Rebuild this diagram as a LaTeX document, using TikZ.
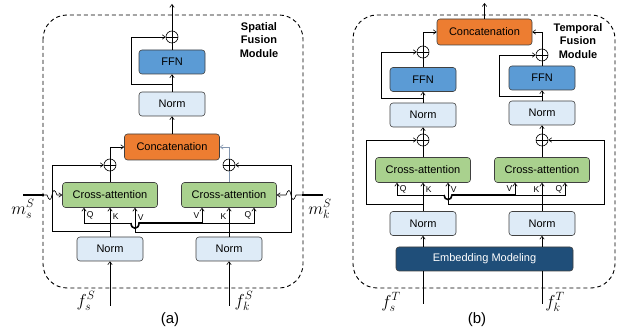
\documentclass[tikz,border=0pt]{standalone}
\usepackage{fontspec}
\setmainfont{Liberation Sans}
\usetikzlibrary{arrows.meta,positioning}
\definecolor{normblue}{RGB}{222,235,247}
\definecolor{ffnblue}{RGB}{91,155,213}
\definecolor{catorange}{RGB}{237,125,49}
\definecolor{cagreen}{RGB}{169,209,142}
\definecolor{embblue}{RGB}{31,78,121}
\definecolor{linegray}{RGB}{132,151,176}

\begin{document}
\begin{tikzpicture}
    [x=1pt, y=-1pt, line width=0.6pt,
    font=\fontsize{11}{13}\selectfont,
    arr/.style={-{Straight Barb[length=3pt,width=4.5pt]}},
    thickln/.style={line width=1.6pt},
    gline/.style={draw=linegray},
    frame/.style={dash pattern=on 4pt off 3pt, line width=0.9pt, rounded corners=24pt},
    box/.style={draw=black!75, rounded corners=3pt, inner sep=0pt, minimum height=24pt},
    normbox/.style={box, fill=normblue, minimum width=66pt},
    ffnbox/.style={box, fill=ffnblue, minimum width=66pt},
    catbox/.style={box, fill=catorange, minimum width=95pt, minimum height=26pt},
    cabox/.style={box, fill=cagreen, minimum width=95pt, minimum height=25pt},
    embbox/.style={box, fill=embblue, text=white, minimum width=177pt},
    plus/.style={circle, draw, fill=white, inner sep=0pt, minimum size=12pt,
        path picture={\draw (path picture bounding box.north) -- (path picture bounding box.south)
            (path picture bounding box.west) -- (path picture bounding box.east);}},
    qkv/.style={font=\fontsize{8.5}{8.5}\selectfont, inner sep=0.5pt},
    mathlbl/.style={font=\fontsize{18}{18}\selectfont, inner sep=0pt},
    caption/.style={font=\fontsize{15}{15}\selectfont},
    title/.style={font=\fontsize{11}{13.5}\selectfont\bfseries, align=center}]
    \useasboundingbox (0,0) rectangle (618,336);

        %% Spatial Fusion Module (a)
    \draw[frame] (43,15) rectangle (303,288);
    \node[title] (tA) at (259,40) {Spatial\\Fusion\\Module};
        \node[catbox] (catA) at (172,147) {Concatenation};
        \node[normbox, above of=catA, node distance=43pt] (normA3) {Norm};
        \node[ffnbox, above of=normA3, node distance=42pt] (ffnA) {FFN};
        \node[plus, above of=ffnA, node distance=25pt] (plusA3) {};
        \coordinate (outA) at (172,4);
        \node[cabox] (caA1) at (110,195) {Cross-attention};
        \node[cabox] (caA2) at (229,195) {Cross-attention};
        \node[plus, above of=caA1, node distance=30pt] (plusA1) {};
        \node[plus, above of=caA2, node distance=30pt] (plusA2) {};
        \node[normbox, below of=caA1, node distance=54pt] (normA1) {Norm};
        \node[normbox, below of=caA2, node distance=54pt] (normA2) {Norm};
        \coordinate (inA1) at (110,306);
        \coordinate (inA2) at (229,306);
        \coordinate (msA) at (23,195);
        \coordinate (msE) at (44,195);
        \coordinate (mkA) at (323,195);
        \coordinate (mkE) at (302,195);
        \node[mathlbl] (fsS) at (86,301) {$f_s^S$};
        \node[mathlbl] (fkS) at (244,301) {$f_k^S$};
        \node[mathlbl] (msS) at (23,209) {$m_s^S$};
        \node[mathlbl] (mkS) at (320,209) {$m_k^S$};
        \node[caption] (capA) at (170,320) {(a)};

        \draw[arr] (catA) to (normA3);
        \draw[arr] (normA3) to (ffnA);
        \draw (ffnA) to (plusA3);
        \draw[arr] (plusA3) to (outA);
        \coordinate (brA3) at (172,84);
        \draw[arr] (brA3) -- ++(-41,0) |- (plusA3.west);
        \draw (caA1) to (plusA1);
        \draw[arr] (plusA1) |- (catA.west);
        \draw[gline] (caA2) to (plusA2);
        \draw[gline, arr] (plusA2) |- (catA.east);

        \coordinate (jA1) at (110,223);
        \coordinate (jA2) at (229,223);
        \coordinate (brA1) at (110,231);
        \coordinate (brA2) at (229,232);
        \coordinate (tkA2) at (202,223);
        \draw[arr] (normA1) to node[qkv, right=2pt, pos=0.7] {K} (caA1);
        \draw[arr] (jA1) -| node[qkv, right=2pt, pos=0.75] {Q} ([xshift=-26pt]caA1.south);
        \draw (jA1) -- (131,223);
        \draw[thickln] (131,223) .. controls (131,230) and (139,230) .. (139,223) -- (tkA2);
        \draw[arr] (tkA2) to node[qkv, left=2pt] {V} ([xshift=-27pt]caA2.south);
        \draw (tkA2) -- (jA2);
        \draw[arr] (normA2) to node[qkv, left=2pt, pos=0.7] {K} (caA2);
        \draw[arr] (jA2) -| node[qkv, left=2pt, pos=0.75] {Q} ([xshift=25pt]caA2.south);
        \draw[arr] (brA2) -| node[qkv, right=2pt, pos=0.8] {V} ([xshift=25pt]caA1.south);
        \draw[arr] (brA1) -- ++(-58,0) |- (plusA1.west);
        \draw[arr] (brA2) -- ++(62,0) |- (plusA2.east);
        \draw[arr] (inA1) to (normA1);
        \draw[arr] (inA2) to (normA2);
        \draw[thickln] (msA) -- (msE);
        \draw[arr] (msE) -- (47,195) .. controls (49,201) and (51,201) .. (52,195)
            .. controls (53,189) and (55,189) .. (57,195) -- (caA1);
        \draw[thickln] (mkA) -- (mkE);
        \draw[arr] (mkE) -- (296,195) .. controls (294,201) and (292,201) .. (291,195)
            .. controls (290,189) and (288,189) .. (286,195) -- (caA2);

        %% Temporal Fusion Module (b)
    \draw[frame] (353,15) rectangle (615,288);
    \node[title] (tB) at (578,41) {Temporal\\Fusion\\Module};
        \node[catbox] (catB) at (484.5,32) {Concatenation};
        \coordinate (outB) at (484.5,3);
        \node[ffnbox] (ffnB1) at (423,79.5) {FFN};
        \node[ffnbox] (ffnB2) at (542,78) {FFN};
        \node[plus, above of=ffnB1, node distance=27.5pt] (plusB3) {};
        \node[plus, above of=ffnB2, node distance=23pt] (plusB4) {};
        \node[normbox, below of=ffnB1, node distance=35.5pt] (normB3) {Norm};
        \node[normbox, below of=ffnB2, node distance=35pt] (normB4) {Norm};
        \node[plus, below of=normB3, node distance=25pt] (plusB1) {};
        \node[plus, below of=normB4, node distance=27pt] (plusB2) {};
        \node[cabox, below of=plusB1, node distance=30pt] (caB1) {Cross-attention};
        \node[cabox, below of=plusB2, node distance=30pt] (caB2) {Cross-attention};
        \node[normbox, below of=caB1, node distance=53.5pt] (normB1) {Norm};
        \node[normbox, below of=caB2, node distance=53.5pt] (normB2) {Norm};
        \node[embbox] (embB) at (484.5,259) {Embedding Modeling};
        \coordinate (inB1) at (423,304);
        \coordinate (inB2) at (542,304);
        \node[mathlbl] (fsT) at (391,302) {$f_s^T$};
        \node[mathlbl] (fkT) at (555,302) {$f_k^T$};
        \node[caption] (capB) at (477,320) {(b)};

        \draw[arr] (plusB3) |- (catB.west);
        \draw[arr] (plusB4) |- (catB.east);
        \draw[arr] (catB) to (outB);
        \draw (ffnB1) to (plusB3);
        \draw (ffnB2) to (plusB4);
        \draw[arr] (normB3) to (ffnB1);
        \draw[arr] (normB4) to (ffnB2);
        \coordinate (brB3) at (423,98);
        \coordinate (brB4) at (542,96);
        \draw[arr] (brB3) -- ++(-42,0) |- (plusB3.west);
        \draw[arr] (brB4) -- ++(-43,0) |- (plusB4.west);
        \draw[arr] (plusB1) to (normB3);
        \draw[arr] (plusB2) to (normB4);
        \draw (caB1) to (plusB1);
        \draw (caB2) to (plusB2);

        \coordinate (jB1) at (423,195);
        \coordinate (jB2) at (542,195);
        \coordinate (brB1) at (423,204);
        \coordinate (brB2) at (542,204);
        \coordinate (tkB2) at (515,195);
        \draw[arr] (normB1) to node[qkv, right=2pt, pos=0.76] {K} (caB1);
        \draw[arr] (jB1) -| node[qkv, right=2pt, pos=0.75] {Q} ([xshift=-26pt]caB1.south);
        \draw (jB1) -- (444,195);
        \draw[thickln] (444,195) .. controls (444,201) and (452,201) .. (452,195) -- (tkB2);
        \draw[arr] (tkB2) to node[qkv, left=2pt] {V} ([xshift=-27pt]caB2.south);
        \draw (tkB2) -- (jB2);
        \draw[arr] (normB2) to node[qkv, left=2pt, pos=0.76] {K} (caB2);
        \draw[arr] (jB2) -| node[qkv, left=2pt, pos=0.75] {Q} ([xshift=23pt]caB2.south);
        \draw[arr] (brB2) -| node[qkv, right=2pt, pos=0.83] {V} ([xshift=25pt]caB1.south);
        \draw[arr] (brB1) -- ++(-57,0) |- (plusB1.west);
        \draw[arr] (brB2) -- ++(62,0) |- (plusB2.east);
        \draw[arr] (normB1 |- embB.north) to (normB1);
        \draw[arr] (normB2 |- embB.north) to (normB2);
        \draw (inB1) to (inB1 |- embB.south);
        \draw (inB2) to (inB2 |- embB.south);
    \end{tikzpicture}
\end{document}
